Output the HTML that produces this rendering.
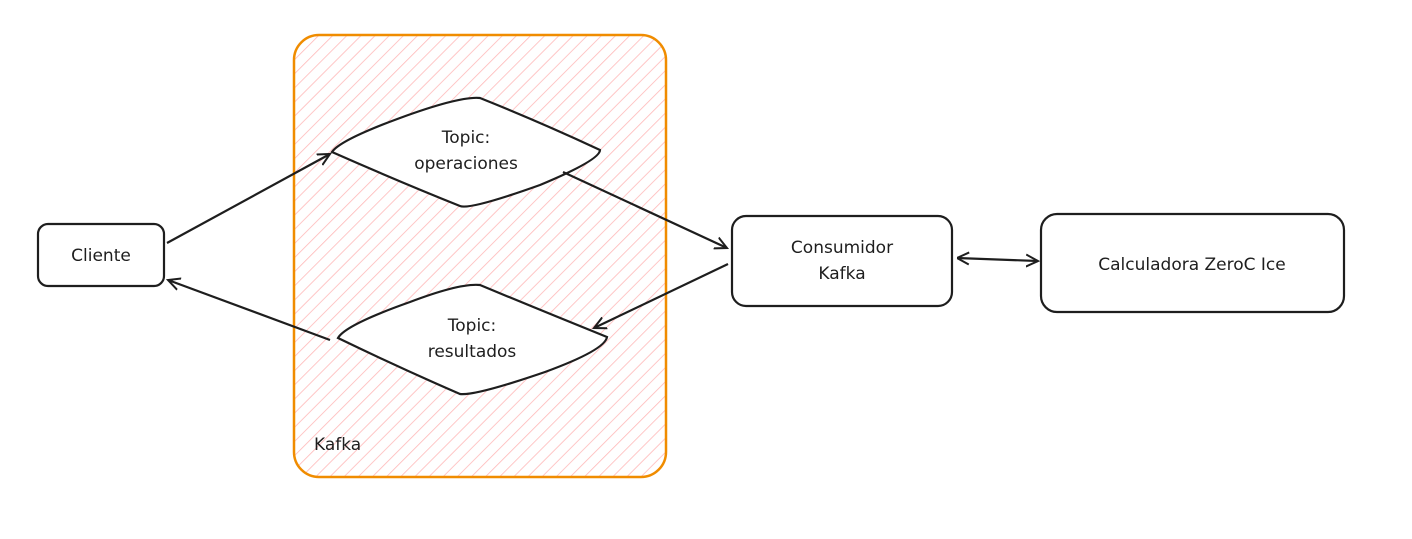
<!DOCTYPE html>
<html><head><meta charset="utf-8"><style>
html,body{margin:0;padding:0;background:#fff;}
svg{display:block;}
text{font-family:"Comic Sans MS","DejaVu Sans",sans-serif;font-size:17px;fill:#1e1e1e;}
</style></head><body>
<svg width="1412" height="539" viewBox="0 0 1412 539" xmlns="http://www.w3.org/2000/svg">
<defs>
<pattern id="h" width="10" height="10" patternUnits="userSpaceOnUse" patternTransform="rotate(45)">
<line x1="0" y1="0" x2="0" y2="10" stroke="#ffb8b8" stroke-width="1.6"/>
</pattern>
<marker id="a" markerWidth="14" markerHeight="14" refX="12" refY="7" orient="auto" markerUnits="userSpaceOnUse">
<path d="M0,1 L12,7 L0,13" fill="none" stroke="#1e1e1e" stroke-width="2"/>
</marker>
<marker id="s" markerWidth="14" markerHeight="14" refX="0" refY="7" orient="auto" markerUnits="userSpaceOnUse">
<path d="M12,1 L0,7 L12,13" fill="none" stroke="#1e1e1e" stroke-width="2"/>
</marker>
</defs>
<rect x="294" y="35" width="372" height="442" rx="25" fill="url(#h)" stroke="#f08c00" stroke-width="2.5"/>
<text x="314" y="450" font-size="16">Kafka</text>

<g fill="#fff" stroke="#1e1e1e" stroke-width="2.2">
<path d="M332,152 Q340,140 400,118 Q460,96 480,98 Q540,122 600,150 Q600,160 540,185 Q470,210 460,206 Q400,182 332,152 Z"/>
<path d="M338,338 Q345,325 410,302 Q460,283 480,285 Q540,310 607,337 Q605,350 545,372 Q475,396 460,394 Q400,368 338,338 Z"/>
<rect x="38" y="224" width="126" height="62" rx="10"/>
<rect x="732" y="216" width="220" height="90" rx="14"/>
<rect x="1041" y="214" width="303" height="98" rx="16"/>
</g>
<text x="466" y="143" text-anchor="middle">Topic:</text>
<text x="466" y="169" text-anchor="middle">operaciones</text>
<text x="472" y="331" text-anchor="middle">Topic:</text>
<text x="472" y="357" text-anchor="middle">resultados</text>
<text x="101" y="261" text-anchor="middle">Cliente</text>
<text x="842" y="253" text-anchor="middle">Consumidor</text>
<text x="842" y="279" text-anchor="middle">Kafka</text>
<text x="1192" y="270" text-anchor="middle">Calculadora ZeroC Ice</text>

<g stroke="#1e1e1e" stroke-width="2.2" fill="none">
<line x1="167" y1="243" x2="330" y2="154" marker-end="url(#a)"/>
<line x1="563" y1="172" x2="727" y2="248" marker-end="url(#a)"/>
<line x1="728" y1="264" x2="594" y2="328" marker-end="url(#a)"/>
<line x1="330" y1="340" x2="168" y2="280" marker-end="url(#a)"/>
<line x1="957" y1="258" x2="1038" y2="261" marker-start="url(#s)" marker-end="url(#a)"/>
</g>
</svg>
</body></html>
